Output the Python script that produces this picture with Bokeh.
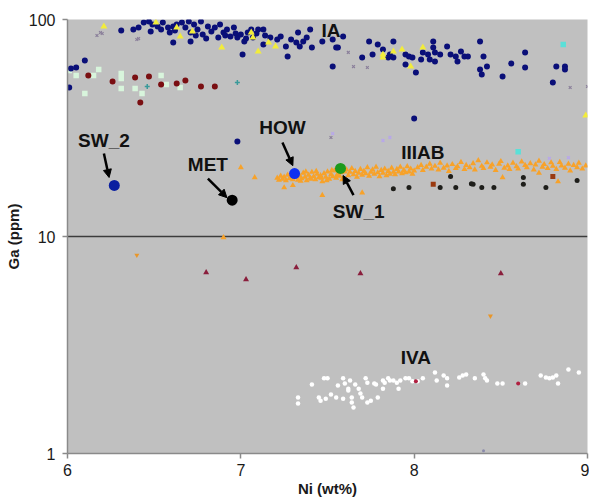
from bokeh.plotting import figure
from bokeh.models import Range1d, FixedTicker, CustomJSTickFormatter, Label, Arrow, NormalHead
from bokeh.embed import file_html
from bokeh.resources import INLINE

# ---------------- data (Ni wt%, Ga ppm) ----------------
ia_ni = [6.31, 6.38, 6.41, 6.44, 6.47, 6.49, 6.52, 6.54, 6.55, 6.58, 6.59, 6.61, 6.63, 6.66, 6.68,
         6.70, 6.71, 6.73, 6.75, 6.77, 6.78, 6.81, 6.83, 6.85, 6.87, 6.88, 6.90, 6.92, 6.94, 6.96,
         6.98, 7.00, 7.02, 7.04, 7.06, 7.07, 7.10, 7.13, 7.01, 7.13, 7.17, 7.21, 7.23, 7.27, 7.29,
         7.32, 7.34, 7.36, 7.38, 7.40, 7.41, 7.33, 6.71, 6.10, 6.62, 6.80, 6.91, 6.97, 7.03, 7.09,
         7.14, 7.26, 6.48, 6.74, 6.61,
         7.47, 7.53, 7.55, 7.56, 7.59, 7.53, 7.70, 7.74, 7.76, 7.79, 7.82, 7.85, 7.86, 7.88, 7.88,
         7.95, 7.97, 7.99, 7.95, 8.01, 8.04, 8.05, 8.08, 8.09, 8.11, 8.11, 8.12, 8.12, 8.15, 8.19,
         8.21, 8.24, 8.25, 8.27, 8.29, 8.31, 8.38, 8.40, 8.38, 8.39, 8.42, 8.51, 8.56, 8.64, 8.64,
         8.80, 8.82, 8.87, 8.87, 8.00, 6.98, 6.01, 6.02, 6.05]
ia_ga = [89.0, 89.9, 91.9, 96.9, 97.9, 94.8, 92.8, 89.9, 96.9, 91.9, 87.1, 92.8, 94.8, 96.9, 91.9,
         97.9, 87.1, 94.8, 89.9, 97.9, 85.3, 92.8, 88.0, 91.9, 82.6, 94.8, 87.1, 89.9, 83.5, 91.9,
         82.6, 85.3, 79.2, 87.1, 89.9, 82.6, 89.9, 89.9, 69.0, 76.7, 82.6, 80.9, 83.5, 67.5, 80.9,
         78.3, 75.1, 79.2, 82.6, 89.9, 74.3, 87.1, 79.2, 64.7, 89.0, 81.7, 84.4, 86.2, 81.7, 86.2,
         84.4, 75.1, 88.0, 84.4, 78.3,
         79.2, 80.9, 74.3, 74.3, 83.5, 60.7, 66.8, 79.2, 69.0, 76.7, 72.7, 66.8, 69.0, 66.8, 79.2,
         69.0, 67.5, 66.8, 62.0, 57.0, 65.4, 70.5, 69.0, 65.4, 79.2, 74.3, 70.5, 64.0, 69.0, 75.1,
         69.0, 67.5, 64.0, 71.2, 67.5, 67.5, 79.2, 67.5, 58.8, 55.8, 60.7, 54.6, 62.7, 70.5, 60.1,
         51.3, 60.7, 60.7, 58.8, 35.0, 27.4, 48.6, 59.4, 60.1]

yel_ni = [6.21, 6.51, 6.63, 6.65, 6.72, 6.89, 7.06, 7.07, 7.10, 7.16, 7.20, 7.82, 7.82, 7.88, 7.93,
          7.98, 8.05, 8.99]
yel_ga = [92.8, 96.9, 91.9, 83.5, 88.0, 74.3, 87.1, 82.6, 71.2, 78.3, 75.1, 66.8, 69.0, 71.2, 72.7,
          60.7, 74.3, 36.1]

gray_ni = [6.40, 6.19, 6.17, 6.20, 6.41, 7.65, 7.73, 7.62, 8.90, 9.00, 7.52]
gray_ga = [80.9, 87.1, 84.4, 86.2, 81.7, 60.7, 60.1, 70.5, 48.6, 49.1, 28.6]

red_ni = [6.12, 6.26, 6.39, 6.47, 6.42, 6.54, 6.63, 6.68, 6.77, 6.85]
red_ga = [55.2, 51.8, 54.0, 54.6, 41.5, 50.2, 50.7, 52.4, 49.1, 49.1]

mint_ni = [6.01, 6.05, 6.10, 6.15, 6.18, 6.31, 6.31, 6.31, 6.39, 6.43, 6.54, 6.57, 6.65]
mint_ga = [58.2, 55.2, 45.6, 55.2, 58.8, 56.4, 53.5, 48.1, 48.1, 45.6, 55.2, 50.2, 48.6]

teal_ni = [6.46, 6.98]
teal_ga = [49.1, 51.3]

cyan_ni = [8.86, 8.60]
cyan_ga = [76.7, 24.6]

lav_ni = [7.82, 7.86, 7.53, 8.78, 8.89]
lav_ga = [27.7, 28.6, 29.8, 22.9, 23.1]

blk_ni = [7.88, 7.97, 8.15, 8.21, 8.24, 8.33, 8.34, 8.39, 8.46, 8.63, 8.63, 8.76, 8.94]
blk_ga = [16.6, 16.8, 16.8, 18.9, 16.8, 17.5, 17.4, 16.8, 16.8, 17.4, 18.7, 16.8, 18.1]

brn_ni = [8.11, 8.80]
brn_ga = [17.4, 18.9]

iiiab_ni = [7.21, 7.22, 7.23, 7.24, 7.25, 7.26, 7.27, 7.28, 7.29, 7.30,
            7.31, 7.32, 7.33, 7.34, 7.35, 7.36, 7.37, 7.38, 7.39, 7.40, 7.41, 7.42, 7.43, 7.44, 7.45,
            7.46, 7.47, 7.48, 7.49, 7.50, 7.51, 7.52, 7.53, 7.54, 7.55, 7.56, 7.57, 7.58, 7.59, 7.60,
            7.315, 7.345, 7.375, 7.405, 7.435, 7.465, 7.495, 7.525, 7.555, 7.585,
            7.61, 7.62, 7.63, 7.64, 7.65, 7.66, 7.67, 7.68, 7.69, 7.70, 7.71, 7.72, 7.73, 7.74, 7.75,
            7.76, 7.77, 7.78, 7.79, 7.80, 7.81, 7.82, 7.83, 7.84, 7.85, 7.86, 7.87, 7.88, 7.89, 7.90,
            7.91, 7.92, 7.93, 7.94, 7.95, 7.96, 7.97, 7.98, 7.99, 8.00,
            8.02, 8.04, 8.05, 8.07, 8.09, 8.10, 8.12, 8.14, 8.15, 8.17, 8.19, 8.20, 8.22, 8.24, 8.25,
            8.27, 8.29, 8.30, 8.32, 8.34, 8.35, 8.37, 8.39, 8.40, 8.42, 8.44, 8.45, 8.47, 8.49, 8.50,
            8.52, 8.54, 8.55, 8.57, 8.59, 8.60, 8.62, 8.64, 8.65, 8.67, 8.69, 8.70, 8.72, 8.74, 8.75,
            8.77, 8.79, 8.80, 8.82, 8.84, 8.85, 8.87, 8.89, 8.90, 8.92, 8.94, 8.95, 8.97, 8.99,
            8.51, 8.72, 8.83,
            7.00, 7.08, 7.25, 7.30, 7.47, 7.70, 6.90]
iiiab_ga = [18.6, 18.2, 19.0, 18.4, 18.8, 18.1, 19.2, 18.5, 18.9, 18.3,
            18.7, 19.3, 18.2, 19.0, 18.5, 19.6, 18.8, 18.1, 19.2, 18.6, 19.8, 18.9, 18.3, 19.4, 18.7,
            19.1, 17.9, 19.5, 18.8, 19.9, 18.4, 19.3, 18.9, 20.1, 18.6, 19.4, 19.0, 19.7, 18.5, 19.9,
            19.6, 18.0, 19.9, 18.4, 20.0, 18.6, 18.1, 20.2, 19.2, 18.3,
            20.3, 19.1, 19.8, 20.6, 19.3, 20.0, 18.8, 19.6, 20.4, 19.2, 20.0, 19.5, 20.8, 19.0, 19.8,
            20.3, 19.4, 20.9, 19.7, 18.9, 20.2, 19.6, 20.5, 19.1, 20.0, 19.4, 20.7, 19.8, 19.3, 20.4,
            19.9, 20.9, 19.5, 20.2, 19.7, 21.0, 19.9, 20.5, 19.4, 20.1,
            20.8, 21.3, 20.2, 20.9, 21.6, 20.5, 21.1, 20.3, 21.8, 20.7, 21.2, 20.0, 21.5, 20.6, 21.0,
            22.0, 20.4, 21.3, 20.8, 21.7, 20.3, 22.4, 21.1, 20.6, 21.9, 20.9, 21.4, 20.2, 21.6, 22.2,
            20.7, 21.2, 20.4, 21.8, 21.0, 20.5, 22.1, 21.3, 20.8, 21.7, 20.3, 21.4, 22.3, 20.9, 21.5,
            20.6, 21.9, 21.1, 20.4, 22.0, 21.2, 20.7, 21.6, 20.1, 21.3, 20.8, 21.8, 20.5, 21.2,
            18.7, 19.6, 17.9,
            20.8, 18.7, 16.8, 17.2, 15.5, 15.9, 9.9]

odd_ni = [6.40, 8.44]          # single orange points below the band
odd_ga = [8.2, 4.3]

tri_ni = [6.80, 7.03, 7.32, 7.69, 8.50]   # dark red triangles
tri_ga = [6.82, 6.34, 7.2, 6.75, 6.75]

iva_ni = [7.33, 7.33, 7.41, 7.45, 7.46, 7.48, 7.50, 7.49, 7.52, 7.55, 7.56, 7.59, 7.59, 7.60, 7.62,
          7.62, 7.63, 7.64, 7.64, 7.65, 7.66, 7.68, 7.69, 7.70, 7.72, 7.73, 7.73, 7.75, 7.77, 7.78,
          7.79, 7.82, 7.82, 7.83, 7.85, 7.86, 7.88, 7.90, 7.91, 7.92, 7.95, 7.97, 7.99, 8.02, 8.05,
          8.12, 8.13, 8.17, 8.19, 8.19, 8.26, 8.28, 8.30, 8.35, 8.40, 8.41, 8.42, 8.48, 8.51, 8.64,
          8.73, 8.76, 8.78, 8.80, 8.82, 8.83, 8.89, 8.95]
iva_ga = [1.81, 1.70, 2.08, 1.81, 1.75, 2.22, 2.22, 1.79, 1.87, 1.81, 2.06, 2.22, 1.79, 2.10, 1.99,
          1.95, 2.17, 1.81, 1.72, 1.63, 2.08, 1.99, 1.89, 1.81, 2.22, 2.12, 1.72, 1.75, 2.10, 2.08,
          1.81, 1.99, 2.17, 2.12, 2.22, 2.17, 2.17, 2.12, 1.99, 2.17, 2.22, 2.22, 2.15, 2.15, 2.22,
          2.36, 2.17, 2.29, 2.22, 2.06, 2.24, 2.29, 2.31, 2.22, 2.31, 2.22, 2.17, 2.10, 2.10, 2.10,
          2.29, 2.24, 2.22, 2.24, 2.29, 2.10, 2.44, 2.36]

ivared_ni = [8.01, 8.60]
ivared_ga = [2.15, 2.10]

low_ni = [8.40]
low_ga = [1.03]

samples = ["SW_2", "MET", "HOW", "SW_1"]
sample_ni = [6.27, 6.95, 7.31, 7.575]
sample_ga = [17.2, 14.7, 19.5, 20.6]
sample_colors = ["#0a1fa0", "#000000", "#1030f0", "#1c9a1c"]

# label positions and arrows (data units)
label_text = ["SW_2", "MET", "HOW", "SW_1", "IIIAB", "IA", "IVA"]
label_ni = [6.21, 6.81, 7.24, 7.68, 8.05, 7.52, 8.01]
label_ga = [27.7, 21.5, 31.8, 13.0, 24.4, 89.0, 2.77]
arrow_start = [(6.21, 24.1), (6.81, 18.5), (7.24, 27.1), (7.65, 15.5)]
arrow_end = [(6.24, 18.7), (6.92, 15.1), (7.30, 21.2), (7.59, 19.1)]

x_ticks = [6, 7, 8, 9]
y_ticks = [1, 10, 100]

FONT = "Liberation Sans"

p = figure(width=589, height=499, output_backend="svg", toolbar_location=None,
           x_range=Range1d(6, 9), y_range=Range1d(1, 100), y_axis_type="log",
           min_border_left=67, min_border_right=2, min_border_top=19, min_border_bottom=46)
p.background_fill_color = "#c0c0c0"
p.border_fill_color = "white"
p.outline_line_color = None

p.xgrid.visible = False
p.ygrid.ticker = FixedTicker(ticks=[10])
p.ygrid.grid_line_color = "#3c3c3c"
p.ygrid.grid_line_width = 1.5

p.xaxis.ticker = FixedTicker(ticks=x_ticks)
p.yaxis.ticker = FixedTicker(ticks=y_ticks)
p.yaxis.formatter = CustomJSTickFormatter(code="return String(Math.round(tick));")
for ax in (p.xaxis[0], p.yaxis[0]):
    ax.axis_line_color = "#8a8a8a"
    ax.axis_line_width = 1.5
    ax.major_tick_line_color = "#8a8a8a"
    ax.major_tick_line_width = 1.5
    ax.major_tick_out = 5
    ax.major_tick_in = 0
    ax.minor_tick_out = 0
    ax.minor_tick_in = 0
    ax.major_label_text_font = FONT
    ax.major_label_text_font_size = "16px"
    ax.major_label_text_color = "#1a1a1a"
    ax.axis_label_text_font = FONT
    ax.axis_label_text_font_size = "15px"
    ax.axis_label_text_font_style = "bold"
    ax.axis_label_text_color = "#1a1a1a"
p.xaxis.axis_label = "Ni (wt%)"
p.yaxis.axis_label = "Ga (ppm)"
p.xaxis.major_label_standoff = 5
p.xaxis.axis_label_standoff = 1
p.yaxis.major_label_standoff = 7
p.yaxis.axis_label_standoff = 4

# scatter groups
p.scatter(mint_ni, mint_ga, marker="square", size=5.5, color="#d8f5dc", line_color=None)
p.scatter(red_ni, red_ga, marker="circle", size=6, color="#7a0f12", line_color=None)
p.scatter(teal_ni, teal_ga, marker="cross", size=5, line_color="#3a9a9a", line_width=1.5)
p.scatter(gray_ni, gray_ga, marker="x", size=4, line_color="#8a7f9a", line_width=1.2)
p.scatter(ia_ni, ia_ga, marker="circle", size=6, color="#0a0f78", line_color=None)
p.scatter(yel_ni, yel_ga, marker="triangle", size=7, color="#f2ec3a", line_color=None)
p.scatter(cyan_ni, cyan_ga, marker="square", size=5.5, color="#5ae0d8", line_color=None)
p.scatter(lav_ni, lav_ga, marker="x", size=4, line_color="#b8a8e8", line_width=1.5)
p.scatter(iiiab_ni, iiiab_ga, marker="triangle", size=6, color="#f7a22a", line_color=None)
p.scatter(blk_ni, blk_ga, marker="circle", size=5, color="#1e1e1a", line_color=None)
p.scatter(brn_ni, brn_ga, marker="square", size=5, color="#9a3a10", line_color=None)
p.scatter(odd_ni, odd_ga, marker="inverted_triangle", size=5, color="#e8962a", line_color=None)
p.scatter(tri_ni, tri_ga, marker="triangle", size=6, color="#8a1e3c", line_color=None)
p.scatter(iva_ni, iva_ga, marker="circle", size=4.5, color="white", line_color=None)
p.scatter(ivared_ni, ivared_ga, marker="circle", size=4, color="#b02040", line_color=None)
p.scatter(low_ni, low_ga, marker="circle", size=3, color="#8a8aaa", line_color=None)

# arrows
for (xs, ys), (xe, ye) in zip(arrow_start, arrow_end):
    p.add_layout(Arrow(x_start=xs, y_start=ys, x_end=xe, y_end=ye,
                       line_color="black", line_width=2.5,
                       end=NormalHead(size=8, fill_color="black", line_color="black")))

p.scatter(sample_ni, sample_ga, marker="circle", size=11, color=sample_colors, line_color=None)

for t, xv, yv in zip(label_text, label_ni, label_ga):
    p.add_layout(Label(x=xv, y=yv, text=t, text_font=FONT, text_font_style="bold",
                       text_font_size="19px", text_color="#111111",
                       text_align="center", text_baseline="middle"))

html = file_html(p, INLINE)
open("out.html", "w").write(html)
